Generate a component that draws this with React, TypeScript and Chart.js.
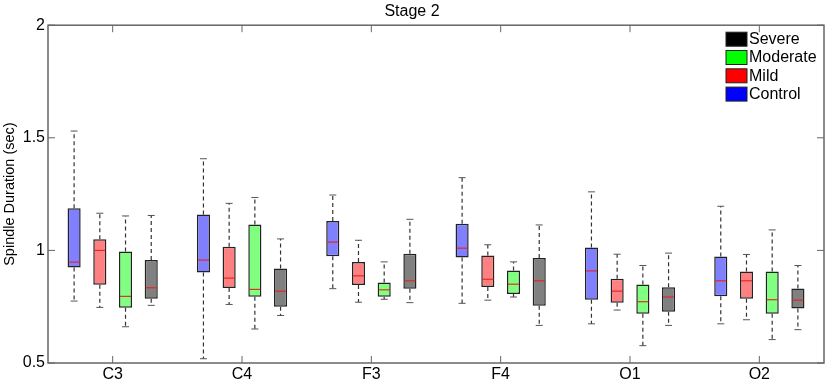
import React, { useEffect, useRef } from "react";
import { Chart, registerables } from "chart.js";

Chart.register(...registerables);

// Categories (electrode sites)
const categories = ["C3", "C4", "F3", "F4", "O1", "O2"];

// Each entry: [whiskerMin, q1, median, q3, whiskerMax]
const control = [
  [0.775, 0.924, 0.948, 1.187, 1.53],
  [0.519, 0.902, 0.957, 1.159, 1.407],
  [0.83, 0.974, 1.037, 1.131, 1.246],
  [0.765, 0.969, 1.01, 1.118, 1.323],
  [0.674, 0.781, 0.909, 1.013, 1.26],
  [0.674, 0.796, 0.865, 0.973, 1.196],
];
const mild = [
  [0.747, 0.847, 1.0, 1.05, 1.165],
  [0.76, 0.833, 0.877, 1.016, 1.209],
  [0.77, 0.846, 0.887, 0.948, 1.045],
  [0.779, 0.838, 0.872, 0.977, 1.025],
  [0.735, 0.768, 0.819, 0.874, 0.983],
  [0.692, 0.785, 0.865, 0.906, 0.982],
];
const moderate = [
  [0.661, 0.745, 0.796, 0.995, 1.153],
  [0.651, 0.794, 0.827, 1.115, 1.235],
  [0.783, 0.794, 0.825, 0.858, 0.949],
  [0.793, 0.806, 0.85, 0.911, 0.949],
  [0.577, 0.719, 0.772, 0.849, 0.933],
  [0.604, 0.719, 0.781, 0.906, 1.091],
];
const severe = [
  [0.756, 0.785, 0.834, 0.957, 1.155],
  [0.711, 0.75, 0.819, 0.92, 1.051],
  [0.768, 0.83, 0.865, 0.985, 1.138],
  [0.667, 0.754, 0.865, 0.966, 1.113],
  [0.667, 0.728, 0.793, 0.836, 0.988],
  [0.648, 0.742, 0.779, 0.831, 0.933],
];

const groupNames = ["Control", "Mild", "Moderate", "Severe"];
const groupData = [control, mild, moderate, severe];
const boxColors = ["#8080ff", "#ff8080", "#80ff80", "#808080"];

// Legend (top to bottom) and its swatch colours
const legendNames = ["Severe", "Moderate", "Mild", "Control"];
const legendColors = ["#000000", "#00ff00", "#ff0000", "#0000ff"];

const yTicks = [0.5, 1, 1.5, 2];
const FONT = "'Liberation Sans', Arial, sans-serif";

const boxPlugin = {
  id: "boxPlugin",
  afterDatasetsDraw(chart: any) {
    const ctx = chart.ctx;
    const y = chart.scales.y;
    chart.data.datasets.forEach((ds: any, di: number) => {
      const meta = chart.getDatasetMeta(di);
      const stats = groupData[di];
      meta.data.forEach((el: any, i: number) => {
        const [mn, q1, med, q3, mx] = stats[i];
        const x = el.x;
        const hw = el.width / 2;
        ctx.save();
        // whiskers
        ctx.strokeStyle = "#333";
        ctx.lineWidth = 1.2;
        ctx.setLineDash([4, 3]);
        ctx.beginPath();
        ctx.moveTo(x, y.getPixelForValue(q3));
        ctx.lineTo(x, y.getPixelForValue(mx));
        ctx.moveTo(x, y.getPixelForValue(q1));
        ctx.lineTo(x, y.getPixelForValue(mn));
        ctx.stroke();
        ctx.setLineDash([]);
        // caps
        ctx.strokeStyle = "#555";
        ctx.lineWidth = 1;
        ctx.beginPath();
        ctx.moveTo(x - 3.5, y.getPixelForValue(mx));
        ctx.lineTo(x + 3.5, y.getPixelForValue(mx));
        ctx.moveTo(x - 3.5, y.getPixelForValue(mn));
        ctx.lineTo(x + 3.5, y.getPixelForValue(mn));
        ctx.stroke();
        // median
        ctx.strokeStyle = "#e62020";
        ctx.lineWidth = 1.1;
        ctx.beginPath();
        ctx.moveTo(x - hw + 1, y.getPixelForValue(med));
        ctx.lineTo(x + hw - 1, y.getPixelForValue(med));
        ctx.stroke();
        ctx.restore();
      });
    });
  },
  afterDraw(chart: any) {
    const ctx = chart.ctx;
    const a = chart.chartArea;
    const xs = chart.scales.x;
    const ys = chart.scales.y;
    ctx.save();
    // frame
    ctx.strokeStyle = "#666";
    ctx.lineWidth = 1.5;
    ctx.strokeRect(a.left, a.top, a.right - a.left, a.bottom - a.top);
    // inward ticks
    ctx.lineWidth = 1;
    ctx.strokeStyle = "#666";
    ctx.beginPath();
    categories.forEach((_, i) => {
      const px = xs.getPixelForTick(i);
      ctx.moveTo(px, a.top);
      ctx.lineTo(px, a.top + 7);
      ctx.moveTo(px, a.bottom);
      ctx.lineTo(px, a.bottom - 7);
    });
    yTicks.forEach((v) => {
      const py = ys.getPixelForValue(v);
      ctx.moveTo(a.left, py);
      ctx.lineTo(a.left + 7, py);
      ctx.moveTo(a.right, py);
      ctx.lineTo(a.right - 7, py);
    });
    ctx.stroke();
    // legend
    const lx = a.right - 98;
    const rowH = 18.3;
    ctx.font = `16px ${FONT}`;
    ctx.textBaseline = "middle";
    ctx.textAlign = "left";
    legendNames.forEach((name, i) => {
      const ty = a.top + 7 + i * rowH;
      ctx.fillStyle = legendColors[i];
      ctx.fillRect(lx, ty, 21, 14);
      ctx.strokeStyle = "#222";
      ctx.lineWidth = 1;
      ctx.strokeRect(lx, ty, 21, 14);
      ctx.fillStyle = "#000";
      ctx.fillText(name, lx + 23, ty + 7.5);
    });
    ctx.restore();
  },
};

export default function App() {
  const ref = useRef<HTMLCanvasElement | null>(null);
  useEffect(() => {
    if (!ref.current) return;
    const chart = new Chart(ref.current, {
      type: "bar",
      data: {
        labels: categories,
        datasets: groupNames.map((name, gi) => ({
          label: name,
          data: groupData[gi].map((s) => [s[1], s[3]]),
          backgroundColor: boxColors[gi],
          borderColor: "#222",
          borderWidth: 1.5,
          borderSkipped: false,
          categoryPercentage: 0.795,
          barPercentage: 0.51,
        })),
      },
      options: {
        animation: false,
        responsive: true,
        maintainAspectRatio: false,
        layout: { padding: { left: 0, right: 5, top: 0, bottom: 0 } },
        plugins: {
          legend: { display: false },
          tooltip: { enabled: false },
          title: {
            display: true,
            text: "Stage 2",
            color: "#000",
            font: { family: FONT, size: 16, weight: "normal" },
            padding: { top: 2, bottom: 4 },
          },
        },
        scales: {
          x: {
            type: "category",
            grid: { display: false, drawTicks: false },
            border: { display: false },
            ticks: {
              color: "#000",
              font: { family: FONT, size: 16 },
              padding: 2,
              maxRotation: 0,
            },
            afterFit: (s: any) => {
              s.height = 20;
            },
          },
          y: {
            type: "linear",
            min: 0.5,
            max: 2,
            grid: { display: false, drawTicks: false },
            border: { display: false },
            afterBuildTicks: (s: any) => {
              s.ticks = yTicks.map((v) => ({ value: v }));
            },
            ticks: {
              color: "#000",
              font: { family: FONT, size: 16 },
              padding: 3,
              callback: (v: any) => String(v),
            },
            title: {
              display: true,
              text: "Spindle Duration (sec)",
              color: "#000",
              font: { family: FONT, size: 14.5 },
              padding: { top: 1, bottom: 0 },
            },
            afterFit: (s: any) => {
              s.width = 48;
            },
          },
        },
      },
      plugins: [boxPlugin],
    });
    return () => chart.destroy();
  }, []);
  return (
    <div style={{ position: "absolute", left: 0, top: 0, width: 829, height: 383, background: "#fff" }}>
      <canvas ref={ref} />
    </div>
  );
}
